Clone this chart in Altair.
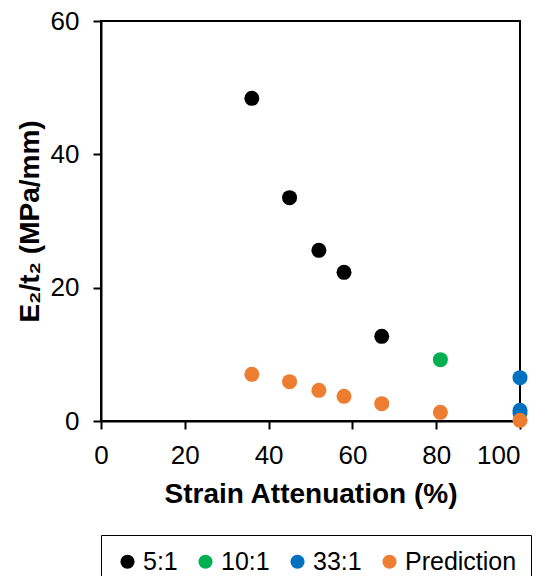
import altair as alt
import pandas as pd

x_51 = [36, 45, 52, 58, 67]
y_51 = [48.4, 33.5, 25.6, 22.3, 12.7]
x_101 = [81]
y_101 = [9.2]
x_331 = [100, 100, 100]
y_331 = [6.5, 1.6, 1.2]
x_pred = [36, 45, 52, 58, 67, 81, 100]
y_pred = [7.0, 5.9, 4.6, 3.7, 2.6, 1.3, 0.1]

series = ["5:1", "10:1", "33:1", "Prediction"]
colors = ["#000000", "#00B050", "#0070C0", "#ED7D31"]

rows = []
for name, xs, ys in [("5:1", x_51, y_51), ("10:1", x_101, y_101),
                     ("33:1", x_331, y_331), ("Prediction", x_pred, y_pred)]:
    for xv, yv in zip(xs, ys):
        rows.append({"series": name, "x": xv, "y": yv})
df = pd.DataFrame(rows)
df["order"] = df["series"].map({s: i for i, s in enumerate(series)})

font = "Liberation Sans"

chart = alt.Chart(df).mark_point(filled=True, opacity=1, size=225, shape="circle").encode(
    x=alt.X("x:Q", scale=alt.Scale(domain=[0, 100], nice=False),
            axis=alt.Axis(values=[0, 20, 40, 60, 80, 100], title="Strain Attenuation (%)",
                          grid=False, domainColor="black", domainWidth=2,
                          tickColor="black", tickWidth=2, tickSize=8,
                          labelFontSize=26, labelFont=font, labelColor="black",
                          labelFlush=False, labelPadding=13,
                          labelAlign=alt.expr("datum.value == 100 ? 'right' : 'center'"),
                          titleFontSize=28, titleFont=font,
                          titleFontWeight="bold", titleColor="black", titlePadding=12)),
    y=alt.Y("y:Q", scale=alt.Scale(domain=[0, 60], nice=False),
            axis=alt.Axis(values=[0, 20, 40, 60], title="E₂/t₂ (MPa/mm)",
                          grid=False, domainColor="black", domainWidth=2,
                          tickColor="black", tickWidth=2, tickSize=8,
                          labelFontSize=26, labelFont=font, labelColor="black",
                          labelFlush=False, labelPadding=14,
                          titleFontSize=28, titleFont=font,
                          titleFontWeight="bold", titleColor="black", titlePadding=6)),
    color=alt.Color("series:N", scale=alt.Scale(domain=series, range=colors),
                    legend=alt.Legend(title=None, orient="none", legendX=0, legendY=514,
                                      direction="horizontal", strokeColor="black",
                                      fillColor="white", padding=14,
                                      labelFontSize=25, labelFont=font, labelColor="black",
                                      symbolType="circle", symbolSize=200,
                                      symbolStrokeWidth=0, symbolOpacity=1,
                                      columnPadding=15, labelOffset=3)),
    order=alt.Order("order:Q"),
).properties(
    width=419, height=400,
    autosize=alt.AutoSizeParams(type="none"),
    padding={"left": 93, "top": 13, "right": 18, "bottom": 155},
).configure_view(stroke="black", strokeWidth=2)

chart.save("out.html", embed_options={"renderer": "svg", "actions": False})
